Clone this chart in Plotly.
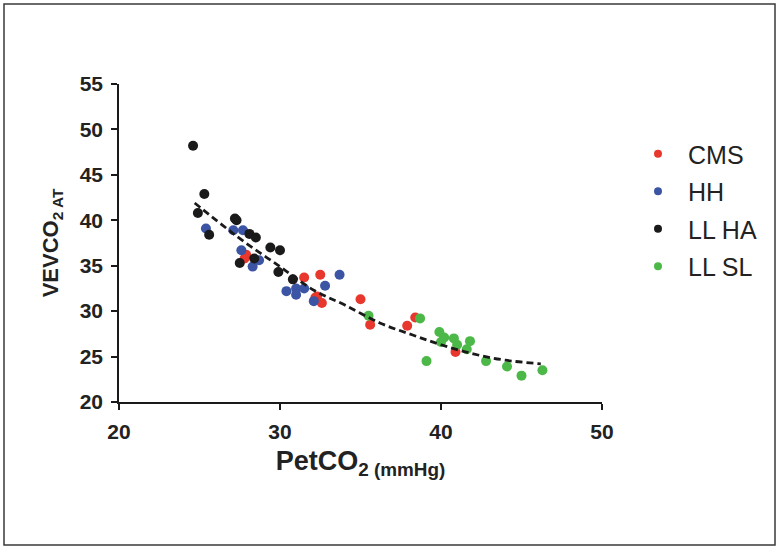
import plotly.graph_objects as go

# ---- data ----
cms_x = [27.9, 27.8, 31.5, 32.5, 32.2, 32.3, 32.6, 35.0, 35.6, 37.9, 38.4, 40.9]
cms_y = [36.2, 35.8, 33.7, 34.0, 31.5, 31.6, 30.9, 31.3, 28.5, 28.4, 29.3, 25.5]

hh_x = [25.4, 27.1, 27.7, 27.6, 28.7, 28.3, 30.4, 31.0, 31.0, 31.5, 32.8, 33.7, 32.1]
hh_y = [39.1, 38.9, 38.9, 36.7, 35.6, 34.9, 32.2, 32.5, 31.8, 32.5, 32.8, 34.0, 31.1]

llha_x = [24.6, 25.3, 24.9, 25.6, 27.2, 27.3, 28.1, 28.5, 29.4, 30.0, 27.5, 28.4, 29.9, 30.8]
llha_y = [48.2, 42.9, 40.8, 38.4, 40.2, 40.0, 38.5, 38.1, 37.0, 36.7, 35.3, 35.8, 34.3, 33.5]

llsl_x = [35.5, 38.7, 39.9, 40.2, 40.0, 40.8, 41.0, 41.8, 41.6, 39.1, 42.8, 44.1, 45.0, 46.3]
llsl_y = [29.5, 29.2, 27.7, 27.1, 26.6, 27.0, 26.3, 26.7, 25.8, 24.5, 24.5, 23.9, 22.9, 23.5]

fit_x = [24.7, 26.4, 27.8, 30.0, 32.1, 34.0, 36.2, 38.2, 40.0, 42.0, 44.0, 46.2]
fit_y = [41.9, 39.5, 37.6, 34.9, 32.3, 30.7, 28.7, 27.4, 26.3, 25.3, 24.6, 24.2]

x_ticks = [20, 30, 40, 50]
y_ticks = [20, 25, 30, 35, 40, 45, 50, 55]

series = [
    ("CMS", cms_x, cms_y, "#e8372c"),
    ("HH", hh_x, hh_y, "#3b54a4"),
    ("LL HA", llha_x, llha_y, "#1a1a1a"),
    ("LL SL", llsl_x, llsl_y, "#4cb848"),
]

fig = go.Figure()
for i, (name, xs, ys, col) in enumerate(series):
    fig.add_trace(go.Scatter(
        x=xs, y=ys, mode="markers", name=name, showlegend=False,
        marker=dict(color=col, size=10, line=dict(width=0)),
    ))

fig.add_trace(go.Scatter(
    x=fit_x, y=fit_y, mode="lines", showlegend=False,
    line=dict(color="#1a1a1a", width=2.8, dash="7px,4px", shape="spline"),
    hoverinfo="skip",
))

# legend entries (smaller symbols, as in the reference)
for i, (name, xs, ys, col) in enumerate(series):
    fig.add_trace(go.Scatter(
        x=[None], y=[None], mode="markers", name=name, legendgroup=str(i),
        marker=dict(color=col, size=8, line=dict(width=0)),
    ))

L, R, T, B = 119, 177, 84, 145
W, H = 779, 547
pw, ph = W - L - R, H - T - B

def px2paper_x(px):
    return (px - L) / pw

def px2paper_y(py):
    return (H - B - py) / ph

fig.add_shape(type="rect", xref="paper", yref="paper",
              x0=px2paper_x(4), x1=px2paper_x(775),
              y0=px2paper_y(545), y1=px2paper_y(4),
              line=dict(color="#3a3a3a", width=1.5), layer="below")

tick_font = dict(size=21, family="Arial, Liberation Sans, sans-serif",
                 color="#222222", weight="bold")

fig.update_layout(
    width=W, height=H,
    margin=dict(l=L, r=R, t=T, b=B),
    paper_bgcolor="white", plot_bgcolor="white",
    font=dict(family="Arial, Liberation Sans, sans-serif", color="#222222"),
    legend=dict(
        x=px2paper_x(628), y=px2paper_y(131), xanchor="left", yanchor="top",
        font=dict(size=25, color="#222222"),
        traceorder="grouped", tracegroupgap=2,
        itemsizing="trace", itemwidth=50,
        bgcolor="rgba(0,0,0,0)",
    ),
    xaxis=dict(
        range=[20, 50], tickvals=x_ticks, ticktext=[str(v) for v in x_ticks],
        showgrid=False, zeroline=False, showline=True, linecolor="#1a1a1a",
        linewidth=1.5, ticks="outside", ticklen=6, tickwidth=1.5, tickcolor="#1a1a1a",
        tickfont=tick_font,
        ticklabelstandoff=4,
        title=dict(text="<b>PetCO<sub>2 (mmHg)</sub></b>",
                   font=dict(size=27, color="#222222"), standoff=9),
    ),
    yaxis=dict(
        range=[20, 55], tickvals=y_ticks, ticktext=[str(v) for v in y_ticks],
        showgrid=False, zeroline=False, showline=True, linecolor="#1a1a1a",
        linewidth=1.5, ticks="outside", ticklen=6, tickwidth=1.5, tickcolor="#1a1a1a",
        tickfont=tick_font,
        ticklabelstandoff=4,
        title=dict(text="<b>VEVCO<sub>2 AT</sub></b>",
                   font=dict(size=22, color="#222222"), standoff=15),
    ),
)

fig.write_html("out.html")
